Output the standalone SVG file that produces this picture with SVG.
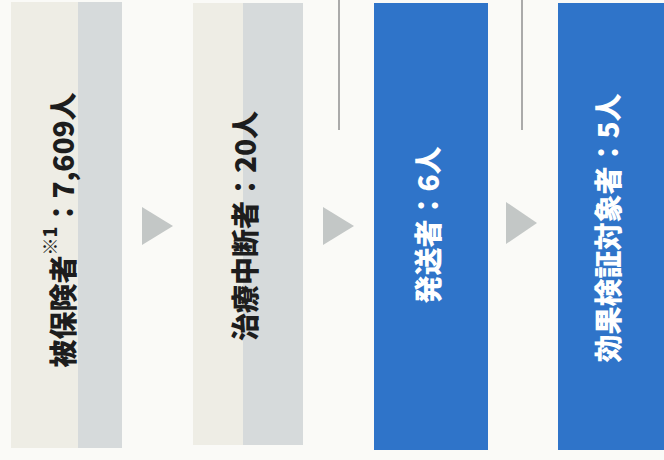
<svg xmlns="http://www.w3.org/2000/svg" width="664" height="460" viewBox="0 0 664 460">
<style>
.lbl{font-family:"Noto Sans CJK JP","Noto Sans",sans-serif;font-weight:900;font-size:28px;text-anchor:middle;dominant-baseline:central}
.dark{fill:#1d1d1d}
.light{fill:#ffffff}
.beige{fill:#eeede5}
.grey{fill:#d6dadb}
.blue{fill:#2f74c9}
.arrow{fill:#c3c7c6}
.rule{stroke:#aaaaaa;stroke-width:2}
</style>
<rect x="0" y="0" width="664" height="460" fill="#fafaf7"/>
<g id="node-insured">
<rect class="beige" x="11" y="2" width="67" height="446"/>
<rect class="grey" x="78" y="2" width="44" height="446"/>
<text class="lbl dark" transform="translate(62,230) rotate(-90)">被保険者<tspan font-size="18" baseline-shift="super">※1</tspan>：7,609人</text>
</g>
<g id="node-interrupted">
<rect class="beige" x="193" y="3" width="50" height="442"/>
<rect class="grey" x="243" y="3" width="60" height="442"/>
<text class="lbl dark" transform="translate(244,226) rotate(-90)">治療中断者：20人</text>
</g>
<g id="node-sent">
<rect class="blue" x="374" y="3" width="114" height="447"/>
<text class="lbl light" transform="translate(427,225) rotate(-90)">発送者：6人</text>
</g>
<g id="node-verified">
<rect class="blue" x="558" y="3" width="106" height="447"/>
<text class="lbl light" transform="translate(607,228) rotate(-90)">効果検証対象者：5人</text>
</g>
<g id="connectors">
<polygon class="arrow" points="142,207 173,226 142,245"/>
<polygon class="arrow" points="323,207 354,226 323,245"/>
<polygon class="arrow" points="506,202 537,223 506,244"/>
<line class="rule" x1="339" y1="0" x2="339" y2="130"/>
<line class="rule" x1="522" y1="0" x2="522" y2="130"/>
</g>
</svg>
